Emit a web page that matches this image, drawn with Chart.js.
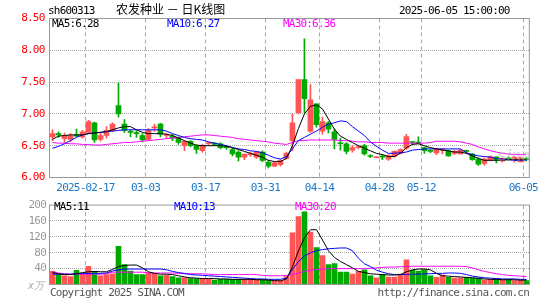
<!DOCTYPE html>
<html>
<head>
<meta charset="utf-8">
<script src="https://cdn.jsdelivr.net/npm/chart.js@4.4.1/dist/chart.umd.min.js"></script>
<style>
  body { margin: 0; width: 545px; height: 300px; background: #fff; position: relative; overflow: hidden;
         font-family: "DejaVu Sans Mono", monospace; font-size: 11px; letter-spacing: -0.8px; }
  .t { position: absolute; white-space: nowrap; line-height: 12px; }
  #kc { position: absolute; left: 0; top: 0; }
  #vc { position: absolute; left: 0; top: 195px; }
</style>
</head>
<body>
<canvas id="kc" width="545" height="195"></canvas>
<canvas id="vc" width="545" height="105"></canvas>

<div class="t" style="left:48px;top:5px">sh600313</div>
<div class="t" style="left:116px;top:3px;font-family:'Noto Sans CJK SC';font-size:12px;letter-spacing:0">农发种业 － 日K线图</div>
<div class="t" style="left:399px;top:5px">2025-06-05 15:00:00</div>
<div class="t" style="left:52px;top:18px">MA5:6.28</div>
<div class="t" style="left:167px;top:18px;color:#0000ff">MA10:6.27</div>
<div class="t" style="left:283px;top:18px;color:#ff00ff">MA30:6.36</div>
<div class="t" style="left:497px;top:150px;font-family:'Liberation Sans';font-size:17px;font-weight:bold;font-style:italic;letter-spacing:0;color:rgba(170,170,170,0.45)">sina</div>
<div class="t" style="left:54px;top:201px">MA5:11</div>
<div class="t" style="left:174px;top:201px;color:#0000ff">MA10:13</div>
<div class="t" style="left:295px;top:201px;color:#ff00ff">MA30:20</div>
<div class="t" style="left:28px;top:280px;color:#aaa;font-size:10px;font-style:italic;letter-spacing:0">x万</div>
<div class="t" style="left:50px;top:287px;color:#555">Copyright 2025 SINA.COM</div>
<div class="t" style="right:16px;top:287px;color:#555">http://finance.sina.com.cn</div>

<script>
// daily K data, 2025-02-07 .. 2025-06-05
const dates = [
  '2025-02-07','2025-02-10','2025-02-11','2025-02-12','2025-02-13','2025-02-14','2025-02-17','2025-02-18','2025-02-19','2025-02-20',
  '2025-02-21','2025-02-24','2025-02-25','2025-02-26','2025-02-27','2025-02-28','2025-03-03','2025-03-04','2025-03-05','2025-03-06',
  '2025-03-07','2025-03-10','2025-03-11','2025-03-12','2025-03-13','2025-03-14','2025-03-17','2025-03-18','2025-03-19','2025-03-20',
  '2025-03-21','2025-03-24','2025-03-25','2025-03-26','2025-03-27','2025-03-28','2025-03-31','2025-04-01','2025-04-02','2025-04-03',
  '2025-04-07','2025-04-08','2025-04-09','2025-04-10','2025-04-11','2025-04-14','2025-04-15','2025-04-16','2025-04-17','2025-04-18',
  '2025-04-21','2025-04-22','2025-04-23','2025-04-24','2025-04-25','2025-04-28','2025-04-29','2025-04-30','2025-05-06','2025-05-07',
  '2025-05-08','2025-05-09','2025-05-12','2025-05-13','2025-05-14','2025-05-15','2025-05-16','2025-05-19','2025-05-20','2025-05-21',
  '2025-05-22','2025-05-23','2025-05-26','2025-05-27','2025-05-28','2025-05-29','2025-05-30','2025-06-03','2025-06-04','2025-06-05'
];
const opens = [
  6.64,6.69,6.61,6.60,6.67,6.64,6.71,6.86,6.60,6.66, 6.74,7.13,6.84,6.72,6.70,6.66,6.60,6.78,6.84,6.66,
  6.65,6.63,6.50,6.57,6.50,6.42,6.53,6.54,6.53,6.48, 6.44,6.40,6.32,6.36,6.32,6.40,6.24,6.18,6.20,6.30,
  6.58,7.02,7.54,6.73,7.16,6.73,6.86,6.72,6.54,6.53, 6.43,6.47,6.50,6.34,6.31,6.33,6.29,6.33,6.38,6.46,
  6.56,6.55,6.47,6.42,6.385,6.43,6.42,6.38,6.37,6.42, 6.37,6.29,6.22,6.28,6.32,6.26,6.30,6.27,6.25,6.29
];
const closes = [
  6.69,6.67,6.66,6.66,6.65,6.72,6.88,6.59,6.66,6.74, 6.84,7.00,6.74,6.71,6.69,6.59,6.74,6.79,6.68,6.67,
  6.62,6.55,6.57,6.50,6.44,6.50,6.54,6.52,6.47,6.47, 6.37,6.32,6.37,6.37,6.40,6.27,6.18,6.23,6.27,6.38,
  6.86,7.54,7.24,7.22,6.83,6.88,6.76,6.60,6.53,6.41, 6.47,6.48,6.37,6.33,6.32,6.32,6.34,6.41,6.44,6.645,
  6.55,6.54,6.42,6.41,6.45,6.44,6.34,6.41,6.43,6.41, 6.28,6.21,6.29,6.33,6.28,6.30,6.29,6.32,6.31,6.28
];
const highs = [
  6.75,6.72,6.70,6.69,6.76,6.74,6.90,6.87,6.70,6.80, 6.86,7.49,6.91,6.75,6.73,6.69,6.77,6.84,6.85,6.70,
  6.68,6.64,6.58,6.58,6.51,6.52,6.56,6.55,6.55,6.50, 6.46,6.42,6.37,6.40,6.41,6.42,6.27,6.24,6.28,6.40,
  7.00,7.54,8.18,7.46,7.16,6.95,6.88,6.76,6.62,6.55, 6.50,6.50,6.52,6.36,6.33,6.36,6.36,6.42,6.45,6.68,
  6.56,6.64,6.48,6.44,6.46,6.45,6.43,6.43,6.44,6.43, 6.38,6.31,6.31,6.34,6.33,6.31,6.32,6.33,6.32,6.31
];
const lows = [
  6.58,6.63,6.55,6.56,6.64,6.62,6.69,6.55,6.57,6.62, 6.72,6.95,6.71,6.64,6.63,6.56,6.58,6.73,6.64,6.62,
  6.58,6.52,6.42,6.48,6.38,6.40,6.51,6.50,6.45,6.44, 6.34,6.26,6.28,6.33,6.30,6.25,6.15,6.17,6.18,6.29,
  6.42,7.00,7.02,6.71,6.79,6.68,6.70,6.45,6.43,6.37, 6.40,6.45,6.35,6.31,6.31,6.28,6.27,6.32,6.37,6.44,
  6.52,6.53,6.38,6.39,6.36,6.37,6.33,6.36,6.37,6.38, 6.27,6.19,6.19,6.26,6.23,6.24,6.27,6.24,6.24,6.26
];
const ma5 = [
  6.60,6.65,6.66,6.67,6.67,6.67,6.69,6.70,6.71,6.72, 6.75,6.78,6.80,6.80,6.75,6.71,6.69,6.69,6.69,6.68,
  6.66,6.62,6.58,6.54,6.51,6.50,6.50,6.50,6.50,6.49, 6.47,6.44,6.41,6.38,6.35,6.32,6.27,6.25,6.25,6.30,
  6.50,6.77,7.00,7.12,7.14,7.08,6.92,6.76,6.65,6.60, 6.55,6.50,6.46,6.42,6.38,6.36,6.33,6.33,6.38,6.47,
  6.52,6.53,6.50,6.47,6.45,6.43,6.42,6.40,6.40,6.38, 6.34,6.30,6.27,6.27,6.27,6.27,6.28,6.28,6.28,6.28
];
const ma10 = [
  6.46,6.49,6.53,6.58,6.63,6.67,6.69,6.70,6.71,6.72, 6.73,6.74,6.75,6.75,6.75,6.75,6.75,6.75,6.75,6.73,
  6.69,6.66,6.63,6.61,6.60,6.59,6.56,6.54,6.52,6.50, 6.47,6.45,6.44,6.42,6.41,6.39,6.35,6.31,6.29,6.33,
  6.45,6.58,6.63,6.68,6.73,6.79,6.84,6.86,6.89,6.88, 6.80,6.73,6.66,6.56,6.49,6.43,6.38,6.38,6.39,6.40,
  6.43,6.44,6.45,6.45,6.45,6.45,6.45,6.45,6.45,6.39, 6.36,6.34,6.33,6.32,6.30,6.29,6.28,6.27,6.27,6.27
];
const ma30 = [
  6.55,6.54,6.54,6.53,6.53,6.52,6.52,6.51,6.51,6.52, 6.53,6.54,6.55,6.55,6.56,6.57,6.58,6.59,6.60,6.61,
  6.62,6.63,6.64,6.65,6.66,6.67,6.67,6.66,6.65,6.64, 6.63,6.61,6.60,6.59,6.58,6.57,6.56,6.54,6.53,6.52,
  6.55,6.58,6.58,6.59,6.59,6.59,6.59,6.59,6.58,6.58, 6.57,6.56,6.56,6.55,6.55,6.55,6.54,6.54,6.54,6.54,
  6.54,6.54,6.54,6.55,6.57,6.57,6.57,6.57,6.56,6.54, 6.52,6.48,6.45,6.42,6.40,6.38,6.37,6.36,6.36,6.36
];
// volume, in 10k lots
const volumes = [
  33,25,22,20,36,27,46,33,22,25, 27,96,50,34,25,25,30,28,22,23,
  20,17,17,15,15,15,13,11,13,13, 13,13,13,13,13,12,11,9,10,20,
  130,171,183,132,93,73,50,53,31,31, 26,33,37,22,17,25,19,19,26,62,
  36,34,37,22,18,24,18,16,17,18, 16,17,11,13,14,12,13,10,11,10
];
const volMa5 = [
  30,27,25,25,27,30,32,33,32,32, 38,45,48,49,49,42,32,28,26,26,
  25,22,19,17,16,15,15,15,14,14, 13,13,13,13,12,12,11,10,9,14,
  45,85,118,138,138,112,85,68,58,50, 42,33,30,27,26,25,24,24,25,32,
  37,39,39,37,28,22,21,20,19,18, 17,15,14,13,13,12,12,12,11,11
];
const volMa10 = [
  26,26,26,26,27,28,28,28,28,29, 34,37,39,39,39,39,39,39,39,37,
  33,30,28,25,24,23,22,21,20,19, 18,17,16,15,14,14,13,13,13,16,
  38,58,72,80,85,88,90,91,92,92, 85,66,52,45,36,31,27,25,25,25,
  26,26,27,27,28,28,29,29,28,25, 21,19,17,16,15,14,14,14,13,13
];
const volMa30 = [
  31,29,27,26,26,26,26,26,26,27, 31,31,31,31,31,31,29,29,29,29,
  29,28,27,27,27,27,26,25,25,25, 25,25,25,25,25,23,22,22,22,23,
  25,29,33,36,38,39,40,40,40,40, 40,40,40,41,42,43,44,44,45,45,
  46,46,46,46,46,46,46,46,46,45, 42,37,33,30,27,25,23,22,21,20
];
const tickDates = ['2025-02-17','2025-03-03','2025-03-17','2025-03-31','2025-04-14','2025-04-28','2025-05-12','2025-06-05'];
const tickLabels = ['2025-02-17','03-03','03-17','03-31','04-14','04-28','05-12','06-05'];
const priceTicks = [6.00, 6.50, 7.00, 7.50, 8.00, 8.50];
const volTicks = [0, 40, 80, 120, 160, 200];

const upColor = '#ff5555';
const downColor = '#00a800';
const gridColor = '#aaaaaa';
const monoFont = { family: 'DejaVu Sans Mono', size: 11 };
const barColors = closes.map((c, i) => (c >= opens[i] ? upColor : downColor));

const spacing = {
  id: 'spacing',
  beforeUpdate(c) { c.ctx.letterSpacing = '-0.8px'; },
  beforeDraw(c) { c.ctx.letterSpacing = '-0.8px'; }
};
const frame = {
  id: 'frame',
  afterDraw(c) {
    const a = c.chartArea, ctx = c.ctx;
    ctx.save();
    ctx.strokeStyle = '#999';
    ctx.lineWidth = 1;
    ctx.strokeRect(a.left, a.top, a.right - a.left, a.bottom - a.top);
    ctx.restore();
  }
};

function maLine(data, color) {
  return { type: 'line', data: data, borderColor: color, borderWidth: 1, pointRadius: 0, tension: 0, order: 0 };
}

function xScale(showLabels) {
  return {
    offset: true,
    grid: {
      offset: true, drawTicks: false,
      color: (ctx) => (tickDates.includes(dates[ctx.index]) ? gridColor : 'rgba(0,0,0,0)')
    },
    border: { display: false, dash: [4, 3] },
    ticks: {
      display: showLabels, autoSkip: false, maxRotation: 0, padding: 4, labelOffset: -3,
      color: '#1a78c8', font: monoFont,
      callback: (v) => {
        const k = tickDates.indexOf(dates[v]);
        return k < 0 ? '' : tickLabels[k];
      }
    },
    afterFit: (s) => { s.height = showLabels ? 17.5 : 0; }
  };
}

new Chart(document.getElementById('kc'), {
  type: 'bar',
  data: {
    labels: dates,
    datasets: [
      maLine(ma5, '#000000'),
      maLine(ma10, '#0000ff'),
      maLine(ma30, '#ff00ff'),
      { data: dates.map((d, i) => [lows[i], highs[i]]), backgroundColor: barColors,
        barThickness: 1, grouped: false, order: 2 },
      { data: dates.map((d, i) => [opens[i], closes[i]]), backgroundColor: barColors,
        barThickness: 5, grouped: false, minBarLength: 1, order: 1 }
    ]
  },
  options: {
    responsive: false,
    animation: false,
    layout: { autoPadding: false, padding: { left: 0, right: 15.5, top: 18.5, bottom: 0 } },
    plugins: { legend: { display: false }, tooltip: { enabled: false } },
    scales: {
      x: xScale(true),
      y: {
        min: 6, max: 8.5,
        afterBuildTicks: (s) => { s.ticks = priceTicks.map((v) => ({ value: v })); },
        grid: {
          drawTicks: false,
          color: (ctx) => (ctx.tick && (ctx.tick.value === 6 || ctx.tick.value === 8.5) ? 'rgba(0,0,0,0)' : gridColor)
        },
        border: { display: false, dash: [1, 1] },
        ticks: { padding: 5, color: '#ff0000', font: monoFont, callback: (v) => Number(v).toFixed(2) },
        afterFit: (s) => { s.width = 49.5; }
      }
    }
  },
  plugins: [spacing, frame]
});

new Chart(document.getElementById('vc'), {
  type: 'bar',
  data: {
    labels: dates,
    datasets: [
      maLine(volMa5, '#000000'),
      maLine(volMa10, '#0000ff'),
      maLine(volMa30, '#ff00ff'),
      { data: volumes, backgroundColor: barColors, barThickness: 5, grouped: false, order: 1 }
    ]
  },
  options: {
    responsive: false,
    animation: false,
    layout: { autoPadding: false, padding: { left: 0, right: 15.5, top: 6.5, bottom: 15.5 } },
    plugins: { legend: { display: false }, tooltip: { enabled: false } },
    scales: {
      x: xScale(false),
      y: {
        min: 0, max: 200,
        afterBuildTicks: (s) => { s.ticks = volTicks.map((v) => ({ value: v })); },
        grid: {
          drawTicks: false,
          color: (ctx) => (ctx.tick && (ctx.tick.value === 0 || ctx.tick.value === 200) ? 'rgba(0,0,0,0)' : gridColor)
        },
        border: { display: false, dash: [1, 1] },
        ticks: { padding: 3.5, color: '#999999', font: monoFont, callback: (v) => (v === 0 ? '' : v) },
        afterFit: (s) => { s.width = 49.5; }
      }
    }
  },
  plugins: [spacing, frame]
});
</script>
</body>
</html>
